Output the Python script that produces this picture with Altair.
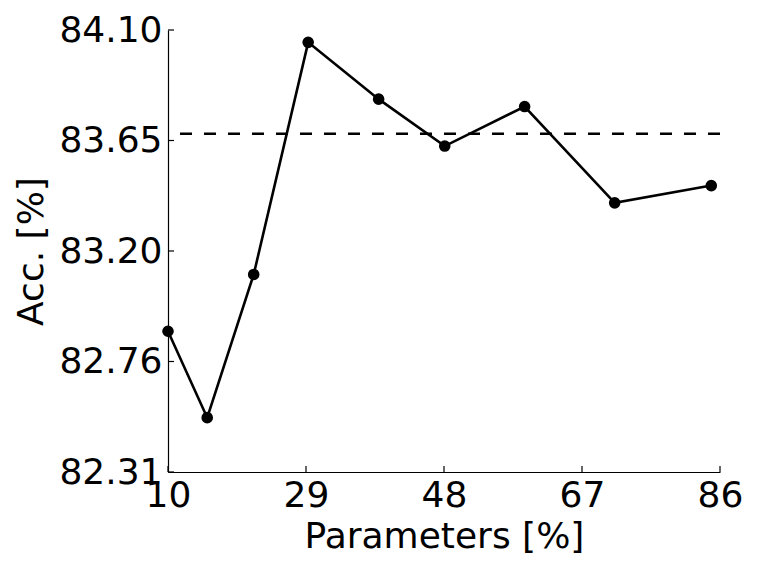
import altair as alt
import pandas as pd

# Data
params = [10, 15.4, 21.8, 29.3, 39.0, 48.1, 59.1, 71.5, 84.8]
acc = [82.88, 82.53, 83.11, 84.05, 83.82, 83.63, 83.79, 83.40, 83.47]
baseline = [83.68]
x_ticks = [10, 29, 48, 67, 86]
y_ticks = [82.31, 82.7575, 83.205, 83.6525, 84.10]
x_domain = [10, 86]
y_domain = [82.31, 84.10]

W, H = 552, 442
FONT = "DejaVu Sans"
FS = 36

df = pd.DataFrame({"params": params, "acc": acc})
df_base = pd.DataFrame({"acc": baseline})
df_xt = pd.DataFrame({"t": x_ticks})
df_yt = pd.DataFrame({"t": y_ticks})

x_scale = alt.Scale(domain=x_domain, nice=False, zero=False)
y_scale = alt.Scale(domain=y_domain, nice=False, zero=False)

x_axis = alt.Axis(
    values=x_ticks, format="d", title="Parameters [%]", grid=False, ticks=False,
    labelFont=FONT, labelFontSize=FS, labelColor="black", labelPadding=6,
    labelFlush=False, labelOverlap=False,
    titleFont=FONT, titleFontSize=FS, titleFontWeight="normal", titleColor="black",
    titlePadding=6, domainColor="black", domainWidth=1.2,
)
y_axis = alt.Axis(
    values=y_ticks, format=".2f", title="Acc. [%]", grid=False, ticks=False,
    labelFont=FONT, labelFontSize=FS, labelColor="black", labelPadding=6,
    labelFlush=False, labelOverlap=False, labelBaseline="middle",
    titleFont=FONT, titleFontSize=FS, titleFontWeight="normal", titleColor="black",
    titlePadding=8, domainColor="black", domainWidth=1.2,
)

line = alt.Chart(df).mark_line(color="black", strokeWidth=2.6).encode(
    x=alt.X("params:Q", scale=x_scale, axis=x_axis),
    y=alt.Y("acc:Q", scale=y_scale, axis=y_axis),
)
pts = alt.Chart(df).mark_point(filled=True, color="black", size=135, opacity=1).encode(
    x=alt.X("params:Q", scale=x_scale),
    y=alt.Y("acc:Q", scale=y_scale),
)
base = alt.Chart(df_base).mark_rule(color="black", strokeWidth=2.4, strokeDash=[12, 12]).encode(
    y=alt.Y("acc:Q", scale=y_scale),
)
xt = alt.Chart(df_xt).mark_rule(color="black", strokeWidth=1.2).encode(
    x=alt.X("t:Q", scale=x_scale), y=alt.value(H), y2=alt.value(H - 6),
)
yt = alt.Chart(df_yt).mark_rule(color="black", strokeWidth=1.2).encode(
    y=alt.Y("t:Q", scale=y_scale), x=alt.value(0), x2=alt.value(6),
)

chart = alt.layer(base, line, pts, xt, yt).properties(
    width=W, height=H,
    background="white",
    autosize=alt.AutoSizeParams(type="none"),
    padding={"left": 160, "top": 22, "right": 33, "bottom": 91},
).configure_view(strokeWidth=0)

chart.save("out.html", embed_options={"renderer": "svg", "actions": False})
